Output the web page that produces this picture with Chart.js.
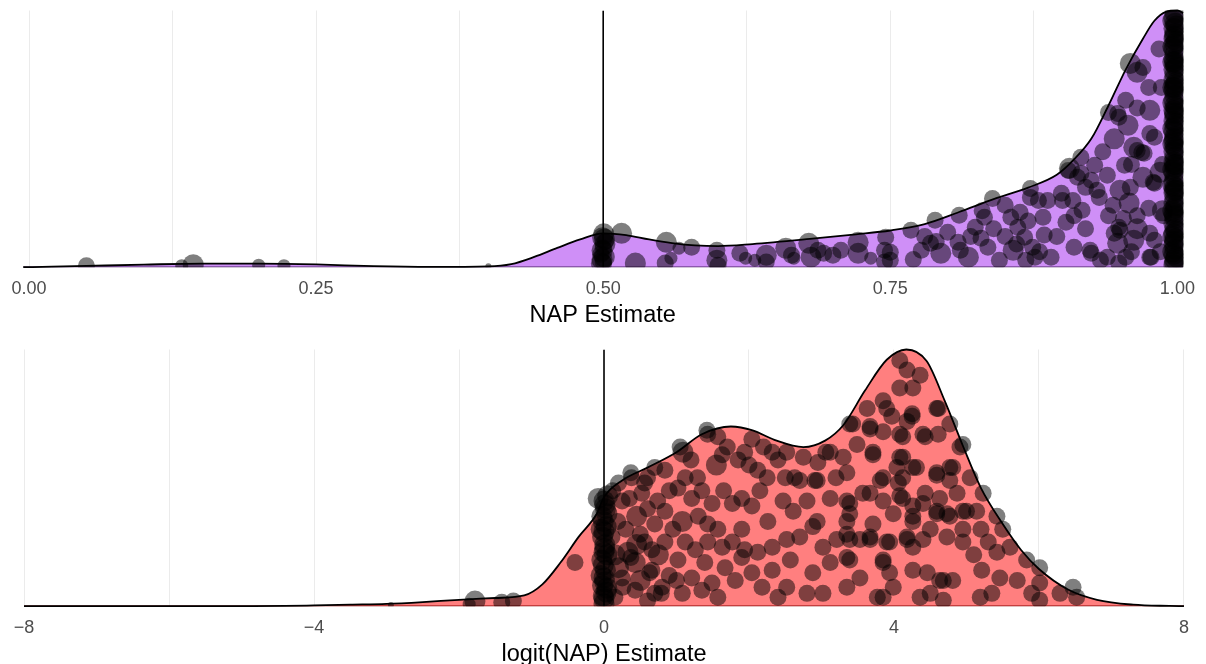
<!DOCTYPE html>
<html>
<head>
<meta charset="utf-8">
<script src="https://cdn.jsdelivr.net/npm/chart.js@4.4.1/dist/chart.umd.min.js"></script>
<style>
  html, body { margin: 0; padding: 0; background: #fff; overflow: hidden; }
  body { width: 1206px; height: 664px; position: relative; }
  .panel { position: absolute; left: 0; width: 1206px; height: 340px; }
</style>
</head>
<body>
<div class="panel" style="top:0px"><canvas id="napChart"></canvas></div>
<div class="panel" style="top:339px"><canvas id="logitChart"></canvas></div>
<script>
// axis ticks
const napTicks = [0, 0.25, 0.5, 0.75, 1];
const napTickLabels = ["0.00", "0.25", "0.50", "0.75", "1.00"];
const napMinor = [0.125, 0.375, 0.625, 0.875];
const logitTicks = [-8, -4, 0, 4, 8];
const logitTickLabels = ["\u22128", "\u22124", "0", "4", "8"];
const logitMinor = [-6, -2, 2, 6];

// density curves (height relative to the panel peak)
const napDensX = [-0.005, 0.02, 0.05, 0.1, 0.15, 0.2, 0.25, 0.3, 0.35, 0.4, 0.42, 0.44, 0.46, 0.48, 0.5, 0.52, 0.54, 0.56, 0.58, 0.6, 0.63, 0.68, 0.72, 0.75, 0.78, 0.81, 0.84, 0.87, 0.895, 0.91, 0.925, 0.94, 0.955, 0.97, 0.98, 0.99, 1.0, 1.005];
const napDensY = [0, 0.002, 0.005, 0.01, 0.014, 0.014, 0.011, 0.004, 0.001, 0.003, 0.012, 0.04, 0.075, 0.108, 0.132, 0.125, 0.108, 0.094, 0.085, 0.082, 0.09, 0.11, 0.128, 0.143, 0.168, 0.215, 0.265, 0.31, 0.36, 0.42, 0.5, 0.63, 0.77, 0.89, 0.96, 0.995, 1.0, 0.99];

const logitDensX = [-8, -6, -5, -4.4, -4, -3.5, -3, -2.5, -2, -1.5, -1.1, -0.85, -0.6, -0.35, -0.1, 0, 0.25, 0.6, 1.0, 1.35, 1.75, 2.05, 2.35, 2.75, 3.05, 3.3, 3.6, 3.9, 4.17, 4.45, 4.7, 4.95, 5.2, 5.5, 5.75, 6.0, 6.4, 6.8, 7.3, 7.8, 8];
const logitDensY = [0, 0, 0.0005, 0.001, 0.003, 0.006, 0.009, 0.016, 0.025, 0.032, 0.042, 0.085, 0.17, 0.27, 0.36, 0.425, 0.49, 0.54, 0.6, 0.67, 0.7, 0.685, 0.648, 0.62, 0.645, 0.705, 0.84, 0.96, 1.0, 0.955, 0.8, 0.625, 0.46, 0.32, 0.22, 0.145, 0.065, 0.025, 0.006, 0.001, 0];

// jittered estimates: [value, height, size class]
const napPoints = [
  [0.05, 0.006, 2], [0.133, 0.006, 1], [0.143, 0.01, 3], [0.2, 0.008, 1], [0.222, 0.006, 1], [0.40, 0.004, 0],
  [0.4985, 0.015, 3], [0.501, 0.04, 3], [0.499, 0.065, 3], [0.5015, 0.09, 3], [0.4995, 0.115, 3], [0.5005, 0.13, 3],
  [0.498, 0.05, 2], [0.502, 0.1, 2], [0.5, 0.02, 2], [0.5, 0.075, 2], [0.499, 0.03, 3], [0.501, 0.11, 3],
  [0.516, 0.132, 3], [0.528, 0.016, 3], [0.555, 0.097, 3], [0.559, 0.035, 1], [0.566, 0.074, 1], [0.577, 0.078, 2],
  [0.554, 0.016, 2], [0.599, 0.066, 2], [0.599, 0.027, 3], [0.6, 0.008, 2], [0.619, 0.054, 2], [0.624, 0.035, 1],
  [0.632, 0.027, 1], [0.642, 0.047, 3], [0.642, 0.02, 2], [0.659, 0.074, 3], [0.664, 0.047, 2], [0.666, 0.035, 1],
  [0.679, 0.093, 3], [0.681, 0.039, 3], [0.687, 0.066, 2], [0.692, 0.054, 2], [0.7, 0.047, 2], [0.707, 0.066, 2],
  [0.722, 0.097, 3], [0.722, 0.054, 3], [0.733, 0.035, 1], [0.746, 0.117, 2], [0.745, 0.066, 2], [0.745, 0.02, 2],
  [0.75, 0.058, 2], [0.75, 0.027, 2], [0.777, 0.066, 2], [0.789, 0.183, 2], [0.794, 0.054, 3], [0.8, 0.136, 2],
  [0.81, 0.202, 2], [0.809, 0.097, 2], [0.811, 0.066, 2], [0.818, 0.039, 3], [0.824, 0.156, 2], [0.829, 0.113, 2],
  [0.832, 0.195, 2], [0.835, 0.078, 2], [0.839, 0.268, 2], [0.845, 0.027, 2], [0.85, 0.241, 2], [0.855, 0.195, 2],
  [0.857, 0.066, 3], [0.861, 0.156, 2], [0.863, 0.214, 2], [0.867, 0.117, 2], [0.868, 0.027, 2], [0.872, 0.307, 2],
  [0.872, 0.272, 2], [0.874, 0.078, 2], [0.876, 0.039, 2], [0.883, 0.195, 2], [0.884, 0.125, 2], [0.887, 0.26, 2],
  [0.89, 0.039, 2], [0.9, 0.26, 2], [0.903, 0.175, 2], [0.906, 0.385, 3], [0.91, 0.078, 2], [0.913, 0.35, 2],
  [0.917, 0.222, 2], [0.92, 0.311, 2], [0.924, 0.066, 2], [0.928, 0.397, 2], [0.932, 0.272, 2], [0.933, 0.027, 2],
  [0.939, 0.358, 2], [0.944, 0.241, 2], [0.948, 0.093, 3], [0.95, 0.144, 2], [0.954, 0.397, 2], [0.955, 0.039, 2],
  [0.959, 0.311, 2], [0.971, 0.444, 2], [0.98, 0.327, 2], [0.98, 0.105, 2], [0.977, 0.039, 2], [0.768, 0.144, 2],
  [0.785, 0.093, 2], [0.959, 0.794, 3], [0.965, 0.759, 3], [0.94, 0.603, 2], [0.949, 0.584, 2], [0.957, 0.553, 3],
  [0.976, 0.611, 3], [0.962, 0.467, 3], [0.969, 0.447, 2], [0.976, 0.521, 2], [0.979, 0.331, 2], [0.949, 0.156, 2],
  [0.945, 0.132, 2], [0.962, 0.105, 3], [0.976, 0.132, 2], [0.925, 0.054, 2], [0.939, 0.039, 2], [0.949, 0.016, 2],
  [0.976, 0.039, 2], [0.916, 0.428, 2], [0.916, 0.366, 2], [0.905, 0.377, 2], [0.899, 0.288, 2], [0.879, 0.26, 2],
  [0.909, 0.26, 2], [0.925, 0.339, 2], [0.97, 0.778, 2], [0.948, 0.599, 2], [0.98, 0.506, 2], [0.965, 0.455, 2],
  [0.82, 0.12, 2], [0.84, 0.15, 2], [0.86, 0.09, 2], [0.88, 0.06, 2], [0.895, 0.12, 2], [0.85, 0.12, 2],
  [0.87, 0.18, 2], [0.83, 0.22, 2], [0.77, 0.03, 2], [0.79, 0.1, 2], [0.78, 0.12, 2], [0.958, 0.25, 3],
  [0.965, 0.2, 2], [0.975, 0.23, 2], [0.953, 0.19, 2], [0.985, 0.06, 2], [0.988, 0.2, 2], [0.987, 0.4, 2],
  [0.986, 0.7, 2], [0.984, 0.85, 2], [0.945, 0.5, 3], [0.955, 0.65, 2], [0.965, 0.62, 2], [0.975, 0.7, 2],
  [0.97, 0.35, 3], [0.96, 0.4, 2], [0.935, 0.45, 2], [0.93, 0.3, 2], [0.95, 0.3, 3], [0.94, 0.2, 2],
  [0.92, 0.15, 2], [0.91, 0.2, 2], [0.96, 0.06, 2], [0.965, 0.15, 3], [0.985, 0.37, 3], [0.987, 0.22, 3],
  // estimates at 1.00
  [0.997, 0.01, 3], [0.998, 0.03, 3], [0.997, 0.05, 3], [0.998, 0.07, 3], [0.997, 0.09, 3], [0.998, 0.11, 3],
  [0.997, 0.13, 3], [0.998, 0.15, 3], [0.997, 0.17, 3], [0.998, 0.19, 3], [0.997, 0.21, 3], [0.998, 0.23, 3],
  [0.997, 0.25, 3], [0.998, 0.27, 3], [0.997, 0.29, 3], [0.998, 0.31, 3], [0.997, 0.33, 3], [0.998, 0.35, 3],
  [0.997, 0.37, 3], [0.998, 0.39, 3], [0.997, 0.41, 3], [0.998, 0.43, 3], [0.997, 0.45, 3], [0.998, 0.47, 3],
  [0.997, 0.49, 3], [0.998, 0.51, 3], [0.997, 0.53, 3], [0.998, 0.55, 3], [0.997, 0.57, 3], [0.998, 0.59, 3],
  [0.997, 0.61, 3], [0.998, 0.63, 3], [0.997, 0.65, 3], [0.998, 0.67, 3], [0.997, 0.69, 3], [0.998, 0.71, 3],
  [0.997, 0.73, 3], [0.998, 0.75, 3], [0.997, 0.77, 3], [0.998, 0.79, 3], [0.997, 0.81, 3], [0.998, 0.83, 3],
  [0.997, 0.85, 3], [0.998, 0.87, 3], [0.997, 0.89, 3], [0.998, 0.91, 3], [0.997, 0.93, 3], [0.998, 0.95, 3],
  [0.997, 0.97, 3], [0.998, 0.99, 3], [0.9975, 0.02, 3], [0.9975, 0.1, 3], [0.9975, 0.2, 3], [0.9975, 0.3, 3],
  [0.9975, 0.4, 3], [0.9975, 0.5, 3], [0.9975, 0.6, 3], [0.9975, 0.7, 3], [0.9975, 0.8, 3], [0.9975, 0.9, 3],
  [0.996, 0.06, 3], [0.999, 0.14, 3], [0.996, 0.22, 3], [0.999, 0.3, 3], [0.996, 0.38, 3], [0.999, 0.46, 3],
  [0.996, 0.54, 3], [0.999, 0.62, 3], [0.996, 0.7, 3], [0.999, 0.78, 3], [0.996, 0.86, 3], [0.999, 0.94, 3],
  [0.999, 0.04, 3], [0.996, 0.12, 3], [0.999, 0.24, 3], [0.996, 0.32, 3], [0.999, 0.4, 3], [0.996, 0.48, 3],
  [0.999, 0.56, 3], [0.996, 0.64, 3], [0.999, 0.72, 3], [0.996, 0.8, 3], [0.999, 0.88, 3], [0.996, 0.96, 3]
];

const logitPoints = [
  [-2.94, 0.005, 0], [-1.78, 0.02, 3], [-1.86, 0.008, 1], [-1.41, 0.015, 2], [-1.25, 0.02, 2], [-0.4, 0.17, 2],
  // estimates at 0
  [0.0, 0.41, 3], [0.02, 0.38, 3], [-0.03, 0.35, 3], [0.03, 0.31, 3], [-0.02, 0.27, 3], [0.01, 0.24, 3],
  [0.0, 0.21, 3], [-0.03, 0.18, 3], [0.02, 0.14, 3], [0.0, 0.11, 3], [-0.02, 0.08, 3], [0.03, 0.055, 3],
  [0.0, 0.03, 3], [-0.08, 0.42, 3], [0.05, 0.43, 3], [0.01, 0.395, 3], [-0.01, 0.33, 3], [0.0, 0.29, 3],
  [0.01, 0.225, 3], [-0.01, 0.16, 3], [0.01, 0.095, 3], [-0.01, 0.04, 3], [0.0, 0.01, 3], [0.04, 0.36, 3],
  [-0.04, 0.3, 3], [0.04, 0.2, 3], [-0.04, 0.12, 3], [0.04, 0.07, 3],
  // spread
  [0.38, 0.50, 2], [0.56, 0.48, 2], [0.70, 0.54, 2], [0.84, 0.53, 2], [1.09, 0.60, 3], [1.12, 0.50, 2],
  [1.29, 0.50, 2], [1.43, 0.67, 2], [1.57, 0.66, 2], [1.63, 0.59, 2], [1.85, 0.57, 2], [1.94, 0.60, 2],
  [2.04, 0.65, 2], [2.12, 0.53, 2], [2.32, 0.60, 2], [2.40, 0.57, 2], [0.25, 0.41, 2], [0.52, 0.44, 2],
  [0.74, 0.41, 2], [0.84, 0.37, 2], [1.08, 0.33, 3], [1.02, 0.46, 2], [1.21, 0.42, 2], [1.35, 0.45, 2],
  [1.49, 0.40, 2], [1.43, 0.32, 2], [1.57, 0.30, 2], [1.77, 0.40, 2], [1.90, 0.42, 2], [2.04, 0.39, 2],
  [1.90, 0.30, 2], [1.77, 0.25, 2], [1.94, 0.22, 2], [2.12, 0.21, 2], [2.32, 0.23, 2], [2.26, 0.33, 2],
  [0.33, 0.21, 3], [0.43, 0.17, 3], [0.56, 0.25, 2], [0.66, 0.14, 2], [0.80, 0.074, 2], [0.70, 0.32, 2],
  [0.84, 0.25, 2], [1.02, 0.18, 2], [1.12, 0.25, 2], [1.08, 0.05, 2], [1.21, 0.11, 2], [1.35, 0.062, 2],
  [1.39, 0.17, 2], [1.49, 0.09, 2], [1.57, 0.035, 2], [1.67, 0.15, 2], [1.81, 0.10, 2], [1.90, 0.19, 2],
  [2.04, 0.13, 2], [2.18, 0.074, 2], [2.32, 0.14, 2], [2.40, 0.035, 2], [0.19, 0.33, 2], [0.11, 0.27, 2],
  [0.25, 0.11, 2], [0.15, 0.035, 2], [0.43, 0.062, 2], [0.66, 0.22, 2], [1.63, 0.23, 2], [1.26, 0.22, 2],
  [1.43, 0.25, 2], [0.37, 0.19, 2], [0.63, 0.13, 2], [0.26, 0.074, 2], [0.79, 0.05, 2], [1.42, 0.685, 2],
  [1.05, 0.62, 2], [0.37, 0.52, 2], [1.7, 0.62, 2], [2.2, 0.62, 2], [2.0, 0.55, 2], [1.55, 0.55, 3],
  [2.25, 0.5, 2], [2.15, 0.45, 2], [0.45, 0.35, 3], [0.6, 0.38, 2], [0.9, 0.45, 2], [0.3, 0.3, 2],
  [0.5, 0.28, 2], [0.95, 0.3, 2], [0.35, 0.42, 2], [0.2, 0.15, 3], [0.5, 0.1, 3], [0.7, 0.05, 2],
  [0.9, 0.12, 2], [0.45, 0.24, 3], [0.15, 0.2, 3], [0.6, 0.02, 2], [1.0, 0.1, 2], [0.12, 0.45, 2],
  [0.2, 0.48, 2], [0.6, 0.5, 2], [1.2, 0.57, 2], [0.75, 0.2, 3], [1.3, 0.35, 2], [1.65, 0.45, 2],
  [2.5, 0.5, 2], [2.75, 0.58, 2], [2.95, 0.56, 2], [3.2, 0.5, 2], [5.3, 0.25, 2], [5.1, 0.2, 2],
  [5.7, 0.1, 2], [5.35, 0.05, 2], [5.9, 0.05, 2], [5.05, 0.5, 2], [5.2, 0.3, 2],
  [2.52, 0.60, 2], [2.70, 0.49, 2], [2.94, 0.49, 2], [3.12, 0.60, 2], [3.30, 0.58, 2], [3.43, 0.71, 2],
  [3.67, 0.70, 2], [3.49, 0.63, 2], [3.71, 0.60, 2], [3.85, 0.68, 2], [3.90, 0.77, 2], [4.08, 0.67, 2],
  [4.18, 0.72, 2], [4.25, 0.75, 2], [4.12, 0.58, 2], [4.31, 0.54, 2], [4.40, 0.67, 2], [4.59, 0.77, 2],
  [4.77, 0.71, 2], [4.81, 0.54, 2], [4.95, 0.63, 2], [4.59, 0.52, 2], [2.47, 0.41, 2], [2.61, 0.37, 2],
  [2.80, 0.41, 2], [2.94, 0.33, 2], [3.12, 0.42, 2], [3.35, 0.41, 2], [3.39, 0.36, 2], [3.57, 0.44, 2],
  [3.81, 0.49, 2], [3.85, 0.41, 2], [4.04, 0.54, 2], [4.06, 0.48, 2], [4.12, 0.42, 2], [4.26, 0.35, 2],
  [4.40, 0.40, 2], [4.59, 0.37, 2], [4.73, 0.36, 2], [4.87, 0.44, 2], [5.00, 0.37, 2], [2.52, 0.26, 2],
  [2.70, 0.27, 2], [2.88, 0.31, 2], [3.02, 0.23, 2], [3.21, 0.26, 2], [3.35, 0.28, 2], [3.53, 0.26, 2],
  [3.67, 0.27, 2], [3.90, 0.25, 2], [4.18, 0.27, 2], [4.26, 0.23, 2], [4.73, 0.27, 2], [4.95, 0.25, 2],
  [2.57, 0.18, 2], [2.88, 0.13, 2], [3.12, 0.17, 2], [3.35, 0.19, 2], [3.53, 0.11, 2], [3.85, 0.18, 2],
  [3.94, 0.13, 2], [4.26, 0.14, 2], [4.46, 0.13, 2], [4.68, 0.10, 2], [2.52, 0.074, 2], [2.80, 0.05, 2],
  [3.02, 0.05, 2], [3.35, 0.074, 2], [3.77, 0.035, 2], [3.99, 0.074, 2], [4.36, 0.035, 2], [4.50, 0.05, 2],
  [4.68, 0.023, 2], [3.06, 0.60, 2], [2.63, 0.50, 2], [2.91, 0.49, 2],
  [4.08, 0.957, 2], [4.18, 0.92, 2], [4.36, 0.90, 2], [4.08, 0.85, 2], [4.26, 0.85, 2], [3.85, 0.80, 2],
  [3.63, 0.77, 2], [3.97, 0.74, 2], [4.25, 0.74, 2], [4.61, 0.77, 2], [3.39, 0.71, 2], [3.67, 0.69, 2],
  [4.12, 0.66, 2], [4.43, 0.66, 2], [4.61, 0.67, 2], [4.91, 0.62, 2], [3.71, 0.59, 2], [4.08, 0.58, 2],
  [4.26, 0.54, 2], [4.77, 0.54, 2], [4.59, 0.51, 2], [3.35, 0.52, 2], [3.85, 0.50, 2], [4.12, 0.50, 2],
  [5.23, 0.44, 2], [4.77, 0.49, 2], [3.67, 0.44, 2], [4.08, 0.43, 2], [4.43, 0.44, 2], [4.63, 0.42, 2],
  [3.39, 0.40, 2], [4.26, 0.39, 2], [4.59, 0.36, 2], [4.77, 0.35, 2], [4.95, 0.37, 2], [5.14, 0.37, 2],
  [5.42, 0.35, 2], [3.35, 0.33, 2], [3.71, 0.32, 2], [3.99, 0.36, 2], [4.26, 0.33, 2], [4.50, 0.30, 2],
  [4.95, 0.30, 2], [5.50, 0.30, 2], [5.60, 0.23, 2], [5.42, 0.21, 2], [5.83, 0.18, 2], [6.01, 0.15, 2],
  [3.39, 0.26, 2], [3.67, 0.26, 2], [3.94, 0.25, 2], [4.18, 0.26, 2], [4.40, 0.26, 2], [3.39, 0.18, 2],
  [3.85, 0.17, 2], [4.63, 0.10, 2], [4.81, 0.10, 2], [5.21, 0.14, 2], [5.46, 0.11, 2], [5.19, 0.035, 2],
  [6.01, 0.09, 2], [6.29, 0.05, 2], [6.47, 0.074, 2], [6.52, 0.035, 2], [6.01, 0.023, 2], [3.85, 0.035, 2]
];

const sizeRadius = [3, 6.5, 8.5, 10.5];

Chart.defaults.font.family = '"Liberation Sans", Arial, Helvetica, sans-serif';
Chart.defaults.animation = false;

const toXY = (xs, ys) => xs.map((x, i) => ({ x: x, y: ys[i] }));

const makePanel = (canvasId, opts) => {
  const curve = toXY(opts.densX, opts.densY);
  const pts = opts.points.map((p) => ({ x: p[0], y: p[1] }));
  const radii = opts.points.map((p) => sizeRadius[p[2]]);
  const gridVals = opts.ticks.concat(opts.minor).sort((a, b) => a - b);
  return new Chart(document.getElementById(canvasId), {
    type: "scatter",
    data: {
      datasets: [
        {
          // reference line
          data: [{ x: opts.refX, y: 0 }, { x: opts.refX, y: 1 }],
          showLine: true,
          borderColor: "#000",
          borderWidth: 1.6,
          pointRadius: 0,
          order: 0,
        },
        {
          // density outline
          data: curve,
          showLine: true,
          borderColor: "#000",
          borderWidth: 1.8,
          cubicInterpolationMode: "monotone",
          pointRadius: 0,
          clip: 3,
          order: 1,
        },
        {
          data: pts,
          pointRadius: radii,
          pointBackgroundColor: "rgba(0,0,0,0.5)",
          pointBorderWidth: 0,
          clip: 0,
          order: 2,
        },
        {
          // baseline of the density
          data: [{ x: opts.densX[0], y: 0 }, { x: opts.densX[opts.densX.length - 1], y: 0 }],
          showLine: true,
          borderColor: opts.baseColor,
          borderWidth: 1.5,
          pointRadius: 0,
          order: 3,
        },
        {
          // density fill
          data: curve,
          showLine: true,
          borderWidth: 0,
          borderColor: "rgba(0,0,0,0)",
          backgroundColor: opts.fillColor,
          fill: "origin",
          cubicInterpolationMode: "monotone",
          pointRadius: 0,
          order: 4,
        },
      ],
    },
    options: {
      responsive: true,
      maintainAspectRatio: false,
      events: [],
      layout: {
        padding: { top: 10, left: 22, right: 20, bottom: 10 },
      },
      plugins: {
        legend: { display: false },
        tooltip: { enabled: false },
      },
      scales: {
        x: {
          type: "linear",
          min: opts.min,
          max: opts.max,
          afterBuildTicks: (axis) => {
            axis.ticks = gridVals.map((v) => ({ value: v }));
          },
          grid: {
            color: "#ebebeb",
            lineWidth: 1,
            drawTicks: false,
          },
          border: { display: false },
          ticks: {
            autoSkip: false,
            maxRotation: 0,
            padding: 11,
            color: "#4d4d4d",
            font: { size: 18 },
            callback: (v) => {
              const i = opts.ticks.indexOf(v);
              return i >= 0 ? opts.labels[i] : "";
            },
          },
          title: {
            display: true,
            text: opts.title,
            color: "#000",
            font: { size: 23.5 },
            padding: { top: -9, bottom: 0 },
          },
        },
        y: {
          display: false,
          min: 0,
          max: 1,
        },
      },
    },
  });
};

makePanel("napChart", {
  densX: napDensX,
  densY: napDensY,
  points: napPoints,
  ticks: napTicks,
  labels: napTickLabels,
  minor: napMinor,
  min: -0.0061,
  max: 1.0052,
  refX: 0.5,
  title: "NAP Estimate",
  fillColor: "#cf8ff7",
  baseColor: "#4b2266",
});

makePanel("logitChart", {
  densX: logitDensX,
  densY: logitDensY,
  points: logitPoints,
  ticks: logitTicks,
  labels: logitTickLabels,
  minor: logitMinor,
  min: -8.028,
  max: 8.028,
  refX: 0,
  title: "logit(NAP) Estimate",
  fillColor: "#ff7f7f",
  baseColor: "#8b0000",
});
</script>
</body>
</html>
